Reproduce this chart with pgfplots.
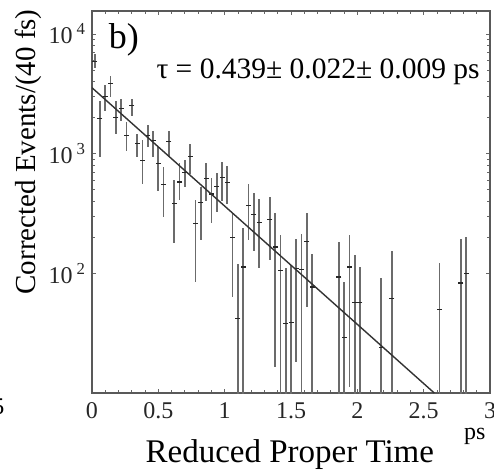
\documentclass[border=0pt]{standalone}
\usepackage{pgfplots}
\usepackage{pgfplotstable}
\pgfplotsset{compat=1.18}
\usepackage{fontspec}
\setmainfont{Liberation Serif}
\pgfplotstableread{
x y lo hi
0.02 5900 5200 6800
0.06 1950 930 2750
0.10 2990 2290 3720
0.14 3830 2950 4470
0.18 2000 1470 2750
0.22 2370 1880 2880
0.26 1410 1060 1820
0.30 2510 2080 2880
0.34 1210 930 1470
0.38 880 560 1290
0.42 1410 1140 1730
0.46 1290 930 1550
0.50 830 490 1140
0.54 550 295 780
0.58 1260 930 1550
0.62 385 178 600
0.66 580 410 830
0.70 700 525 880
0.74 945 680 1210
0.78 260 85 410
0.82 390 188 525
0.86 615 405 830
0.90 460 263 630
0.94 530 325 690
0.98 635 405 850
1.02 575 380 795
1.06 200 63 316
1.10 42 5 120
1.14 113 5 237
1.18 370 188 560
1.22 310 155 465
1.26 265 110 420
1.34 280 128 430
1.38 166 16.5 316
1.42 106 5 209
1.46 38 5 110
1.50 39 5 117
1.54 110 18 195
1.58 107 5 215
1.62 185 52 316
1.66 77 5 146
1.86 93 5 182
1.90 29 5 85
1.94 113 11.2 208
1.98 57 5 141
2.02 57 5 113
2.18 24 5 91
2.26 62 5 155
2.62 50 5 121
2.78 83 5 192
2.82 100 5 200
}\data
\begin{document}
\begin{tikzpicture}
\useasboundingbox (-92pt,-81pt) rectangle (402pt,393pt);
\begin{axis}[
  at={(0,0)}, anchor=south west, scale only axis,
  width=398pt, height=382pt,
  ymode=log, xmin=0, xmax=3, ymin=10, ymax=15540,
  xtick={0,0.5,1,1.5,2,2.5,3},
  xticklabels={0,0.5,1,1.5,2,2.5,3},
  minor x tick num=4,
  ytick={100,1000,10000},
  yticklabels={10\,\textsuperscript{2},10\,\textsuperscript{3},10\,\textsuperscript{4}},
  /pgf/number format/assume math mode=true,
  tick label style={font=\fontsize{24}{28}\selectfont, black!85},
  xticklabel style={yshift=-6pt},
  yticklabel style={xshift=-3pt},
  axis line style={black!65, line width=1.3pt},
  tick style={black!60, line width=0.8pt},
  clip mode=individual,
]
\addplot+[only marks, mark=-, mark size=2.5pt, black!85,
  mark options={line width=1.2pt},
  error bars/.cd, y dir=both, y explicit, error mark=none,
  error bar style={line width=1.7pt, black!58}]
  table[x=x, y=y, y error plus expr=\thisrow{hi}-\thisrow{y},
        y error minus expr=\thisrow{y}-\thisrow{lo}] {\data};
\addplot[black!80, line width=1.4pt] coordinates {(0,3550) (2.58,10)};
\node[font=\fontsize{36}{40}\selectfont] at (rel axis cs:0.08,0.924) {b)};
\node[font=\fontsize{29.5}{32}\selectfont] at (rel axis cs:0.568,0.84) {τ = 0.439± 0.022± 0.009 ps};
\node[font=\fontsize{29}{32}\selectfont, rotate=90] at (rel axis cs:-0.161,0.631) {Corrected Events/(40 fs)};
\node[font=\fontsize{33}{36}\selectfont, anchor=base] at (rel axis cs:0.497,-0.183) {Reduced Proper Time};
\node[font=\fontsize{24}{28}\selectfont, anchor=base] at (rel axis cs:0.962,-0.123) {ps};
\node[font=\fontsize{24}{28}\selectfont, anchor=east] at (rel axis cs:-0.211,-0.037) {5};
\end{axis}
\end{tikzpicture}
\end{document}
